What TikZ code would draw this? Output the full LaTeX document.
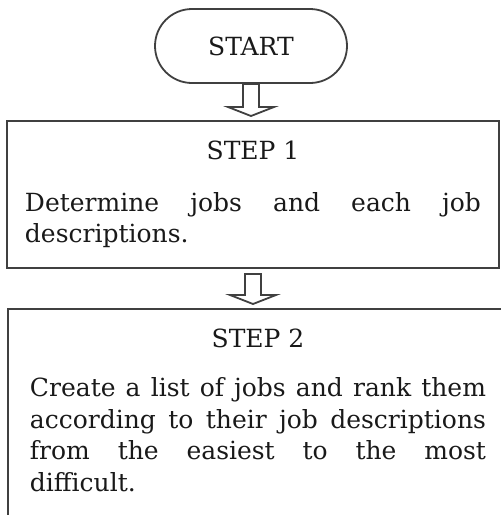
\documentclass[tikz,border=0pt]{standalone}
\usepackage{fontspec}
\setmainfont{DejaVu Serif}
\usetikzlibrary{calc}

\tikzset{
  terminal/.style={draw=black!75, line width=0.9pt, rounded corners=18.5pt,
    minimum width=96pt, minimum height=37pt},
  stepbox/.style={draw=black!75, line width=0.9pt, anchor=north, text width=228pt,
    align=justify, inner ysep=10pt,
    execute at begin node={\setlength{\parindent}{0pt}\hyphenpenalty=10000}},
  hollow/.style={draw=black!75, line width=0.9pt, line join=miter}
}

% hollow block arrow from node #1 down to node #2, #3 = gap below #1
\newcommand{\hollowarrow}[3]{%
  \draw[hollow] let \p1=(#1.south), \p2=(#2.north) in
    (\x1-4pt,\y1-#3) -- (\x1-4pt,\y2+6.5pt) -- (\x1-11.5pt,\y2+6.5pt) -- (\x1,\y2+2pt)
    -- (\x1+11.5pt,\y2+6.5pt) -- (\x1+4pt,\y2+6.5pt) -- (\x1+4pt,\y1-#3) -- cycle;}

\begin{document}
\begin{tikzpicture}[x=0.5pt,y=-0.5pt,font=\fontsize{12.5}{15.75}\selectfont,text=black!90]
    \useasboundingbox (0,0) rectangle (501,515);
    \clip (0,0) rectangle (501,515);

    % Start
    \node[terminal] (start) at (251,46) {START};
    % Step 1
    \node[stepbox, inner xsep=9pt] (step1) at (253,120)
      {{\centering STEP 1\par}\vspace{10.25pt}Determine jobs and each job\linebreak descriptions.};
    % Step 2
    \node[stepbox, inner xsep=11pt] (step2) at (258,308)
      {{\centering STEP 2\par}\vspace{9pt}Create a list of jobs and rank them\linebreak
       according to their job descriptions\linebreak from the easiest to the most\linebreak
       difficult.\par\vspace{24pt}};

    % Arrows
    \hollowarrow{start}{step1}{0pt}
    \hollowarrow{step1}{step2}{2.5pt}
\end{tikzpicture}
\end{document}
